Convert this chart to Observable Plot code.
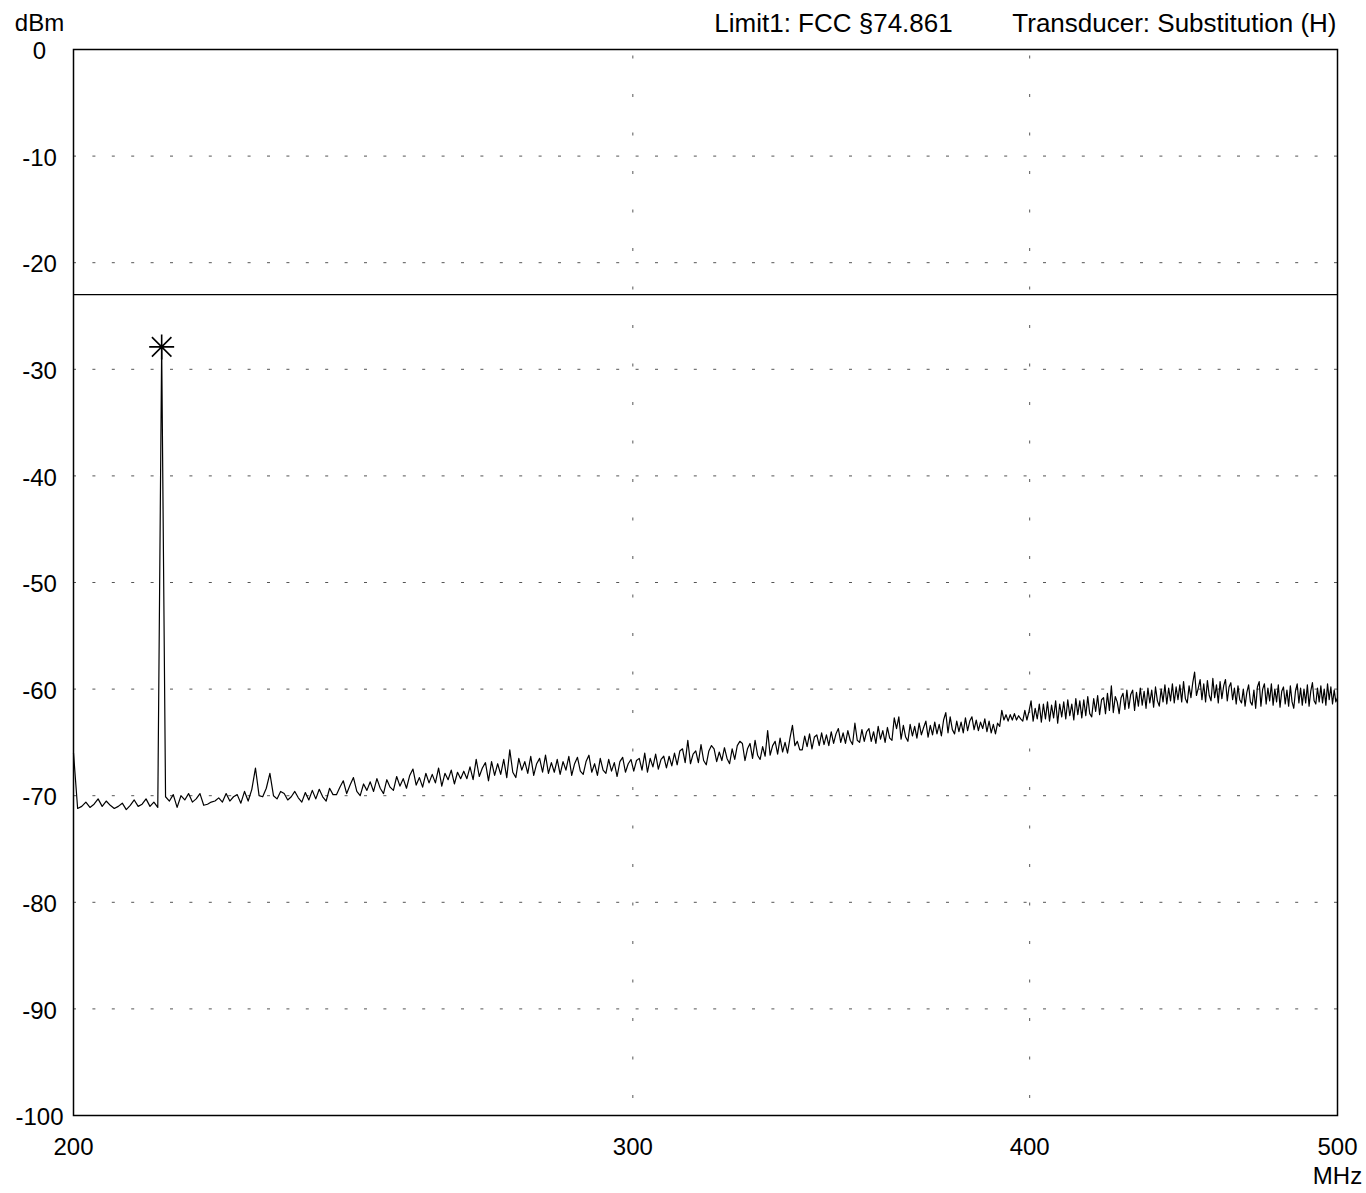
<!DOCTYPE html>
<html>
<head>
<meta charset="utf-8">
<script src="https://cdn.jsdelivr.net/npm/d3@7"></script>
<script src="https://cdn.jsdelivr.net/npm/@observablehq/plot@0.6"></script>
<style>
  html, body { margin: 0; padding: 0; background: #fff; overflow: hidden; }
  svg { display: block; }
</style>
</head>
<body>
<div id="chart"></div>
<script>
// Sweep grid: 501 points from 200 MHz to 500 MHz
const startMHz = 200;
const stepMHz = 0.6;
const levels = [
  -66.0, -71.2, -71.0, -70.6, -71.1, -70.8, -70.3, -71.0, -70.5, -70.9,
  -71.2, -71.0, -70.7, -71.3, -70.9, -70.4, -71.0, -70.8, -70.3, -71.0,
  -70.6, -71.1, -27.9, -70.1, -70.5, -69.9, -71.1, -70.0, -70.4, -69.8,
  -70.6, -70.3, -69.8, -70.9, -70.8, -70.6, -70.5, -70.2, -70.6, -69.8,
  -70.5, -70.1, -69.9, -70.7, -69.6, -70.5, -69.4, -67.4, -70.0, -70.1,
  -69.3, -67.9, -70.0, -70.3, -69.6, -69.8, -70.4, -70.1, -69.6, -70.2,
  -70.6, -69.7, -70.4, -69.5, -70.3, -69.4, -70.1, -70.5, -69.3, -69.9,
  -69.9, -69.2, -68.6, -69.8, -69.0, -68.3, -69.6, -70.0, -68.9, -69.5,
  -68.7, -69.6, -68.4, -69.3, -69.8, -68.5, -69.2, -69.5, -68.2, -69.1,
  -68.4, -69.3, -68.1, -67.5, -69.0, -68.3, -69.2, -67.9, -68.8, -68.0,
  -68.8, -67.4, -69.1, -67.9, -68.5, -67.6, -68.9, -67.8, -68.4, -67.7,
  -68.4, -67.3, -68.5, -66.6, -68.2, -67.4, -66.9, -68.6, -66.8, -68.1,
  -67.0, -68.0, -66.6, -68.3, -65.7, -67.8, -68.3, -66.5, -67.6, -66.8,
  -67.9, -66.3, -68.1, -67.0, -66.5, -67.8, -66.2, -67.9, -66.9, -67.8,
  -66.6, -68.0, -66.8, -67.6, -66.3, -68.1, -67.0, -66.4, -67.7, -68.0,
  -66.8, -66.2, -67.8, -67.0, -68.1, -66.5, -67.6, -67.9, -66.6, -67.7,
  -66.9, -68.2, -66.8, -66.4, -67.8, -67.0, -66.6, -67.7, -66.7, -66.5,
  -67.6, -66.0, -67.8, -66.5, -67.3, -66.1, -67.5, -66.6, -66.3, -67.4,
  -66.3, -67.2, -66.0, -67.1, -65.8, -65.6, -66.9, -64.8, -67.0, -66.1,
  -65.8, -66.9, -65.2, -66.7, -67.1, -65.8, -65.3, -65.6, -66.8, -65.9,
  -66.7, -65.5, -66.5, -67.0, -65.6, -66.6, -65.3, -64.9, -65.1, -66.7,
  -65.6, -65.1, -66.5, -64.8, -66.2, -66.6, -65.4, -66.3, -63.9, -66.2,
  -65.3, -64.9, -66.1, -64.6, -65.9, -65.0, -66.0, -64.6, -63.4, -65.3,
  -64.9, -65.7, -65.7, -64.4, -65.4, -64.2, -65.6, -64.5, -64.3, -65.3,
  -64.1, -65.2, -64.3, -65.3, -64.0, -65.1, -64.2, -63.7, -65.0, -64.1,
  -65.1, -63.9, -64.8, -65.2, -63.2, -64.8, -65.0, -63.8, -64.9, -64.0,
  -63.7, -64.9, -64.0, -65.1, -63.5, -64.7, -63.9, -65.0, -63.6, -64.6,
  -64.8, -62.7, -63.7, -62.6, -64.7, -63.4, -64.5, -64.9, -63.3, -64.4,
  -63.5, -64.6, -63.2, -64.3, -63.6, -63.0, -64.5, -63.4, -64.3, -63.1,
  -64.2, -63.3, -64.4, -62.9, -62.2, -64.1, -62.6, -63.8, -64.2, -63.0,
  -64.0, -63.1, -64.1, -62.7, -63.9, -63.0, -62.6, -63.8, -62.9, -63.9,
  -63.1, -63.7, -62.8, -64.0, -63.0, -64.1, -63.3, -64.2, -63.2, -63.5,
  -62.0, -62.9, -62.4, -63.0, -62.4, -62.9, -62.3, -62.9, -62.5, -62.8,
  -63.0, -62.0, -62.9, -62.1, -61.1, -63.0, -61.8, -62.8, -61.4, -63.1,
  -61.4, -62.8, -61.2, -63.0, -61.5, -62.7, -61.1, -63.2, -61.4, -62.6,
  -61.2, -62.8, -61.0, -62.5, -61.4, -62.9, -60.9, -62.4, -61.1, -62.7,
  -61.0, -62.5, -60.7, -62.3, -62.6, -60.9, -62.1, -60.6, -62.4, -61.0,
  -60.8, -62.3, -60.4, -62.0, -59.7, -62.2, -60.7, -61.2, -62.3, -60.8,
  -60.4, -61.9, -60.1, -61.8, -60.5, -60.1, -62.0, -60.3, -61.6, -59.9,
  -61.5, -60.2, -61.8, -59.9, -61.3, -60.1, -61.7, -59.8, -61.1, -61.6,
  -60.0, -61.2, -59.6, -61.4, -59.9, -61.1, -59.5, -61.3, -59.8, -61.0,
  -59.6, -61.2, -59.3, -60.9, -61.3, -59.7, -60.8, -59.4, -58.4, -60.6,
  -59.9, -59.1, -61.0, -59.5, -61.2, -59.2, -60.6, -61.1, -59.0, -60.8,
  -59.6, -61.3, -59.3, -60.9, -59.7, -59.1, -61.1, -59.8, -59.4, -61.0,
  -59.9, -61.4, -59.7, -61.0, -61.3, -60.0, -61.6, -60.3, -59.6, -61.2,
  -61.5, -60.1, -61.8, -59.8, -59.3, -61.6, -60.0, -59.5, -61.4, -59.9,
  -61.1, -59.5, -61.5, -60.0, -61.2, -59.6, -61.7, -60.2, -59.8, -61.4,
  -60.1, -61.6, -59.7, -61.2, -61.8, -60.2, -59.5, -61.3, -59.9, -61.5,
  -60.0, -61.3, -59.6, -61.6, -60.2, -59.4, -61.1, -61.4, -59.9, -61.2,
  -59.7, -61.3, -60.0, -61.5, -59.5, -61.0, -59.8, -61.4, -60.1, -61.2,
  -60.8
];
const limitLevel = -23;           // Limit1: FCC §74.861
const markerFreq = 213.2;         // MHz
const markerLevel = -27.9;        // dBm
const xTicks = [200, 300, 400, 500];
const yTicks = [0, -10, -20, -30, -40, -50, -60, -70, -80, -90, -100];
const gridY = [-10, -20, -30, -40, -50, -60, -70, -80, -90];
const gridX = [300, 400];
const yUnit = "dBm";
const xUnit = "MHz";
const headerLimit = "Limit1: FCC §74.861";
const headerTransducer = "Transducer: Substitution (H)";

const trace = levels.map((v, i) => ({f: startMHz + i * stepMHz, v}));

const asterisk = {
  draw(ctx, size) {
    const r = Math.sqrt(size / Math.PI);
    const d = r * 0.78;
    ctx.moveTo(0, -r); ctx.lineTo(0, r);
    ctx.moveTo(-r, 0); ctx.lineTo(r, 0);
    ctx.moveTo(-d, -d); ctx.lineTo(d, d);
    ctx.moveTo(-d, d); ctx.lineTo(d, -d);
  }
};

const chart = Plot.plot({
  width: 1366,
  height: 1193,
  marginLeft: 73,
  marginRight: 29,
  marginTop: 49,
  marginBottom: 78,
  style: {fontFamily: "'Liberation Sans', Arial, Helvetica, sans-serif", fontSize: "24px", color: "#000", background: "#fff"},
  x: {type: "log", domain: [200, 500]},
  y: {domain: [-100, 0]},
  marks: [
    Plot.ruleY(gridY, {stroke: "#555", strokeWidth: 1, strokeDasharray: "3,16.4"}),
    Plot.ruleX(gridX, {stroke: "#555", strokeWidth: 1, strokeDasharray: "3,35.5", strokeDashoffset: 32}),
    Plot.ruleY([limitLevel], {stroke: "#000", strokeWidth: 1.2}),
    Plot.line(trace, {x: "f", y: "v", stroke: "#000", strokeWidth: 1.2}),
    Plot.dot([{f: markerFreq, v: markerLevel}], {x: "f", y: "v", r: 12.5, symbol: asterisk, stroke: "#000", strokeWidth: 1.6, fill: "none"}),
    Plot.frame({stroke: "#000", strokeWidth: 1.5}),
    Plot.axisY({ticks: yTicks, tickSize: 0, tickPadding: 34, textAnchor: "middle", dy: 2, fontSize: 24, label: null, tickFormat: d => String(d)}),
    Plot.axisX({ticks: xTicks, tickSize: 0, tickPadding: 22, fontSize: 24, label: null, tickFormat: d => String(d)}),
    Plot.text([yUnit], {frameAnchor: "top-left", lineAnchor: "middle", dx: -34, dy: -26, textAnchor: "middle", fontSize: 24}),
    Plot.text([xUnit], {frameAnchor: "bottom-right", lineAnchor: "middle", dy: 61, textAnchor: "middle", fontSize: 24}),
    Plot.text([headerLimit], {frameAnchor: "top-right", lineAnchor: "middle", dx: -504, dy: -26, textAnchor: "middle", fontSize: 26}),
    Plot.text([headerTransducer], {frameAnchor: "top-right", lineAnchor: "middle", dx: -1, dy: -26, textAnchor: "end", fontSize: 26})
  ]
});
document.getElementById("chart").appendChild(chart);
</script>
</body>
</html>
